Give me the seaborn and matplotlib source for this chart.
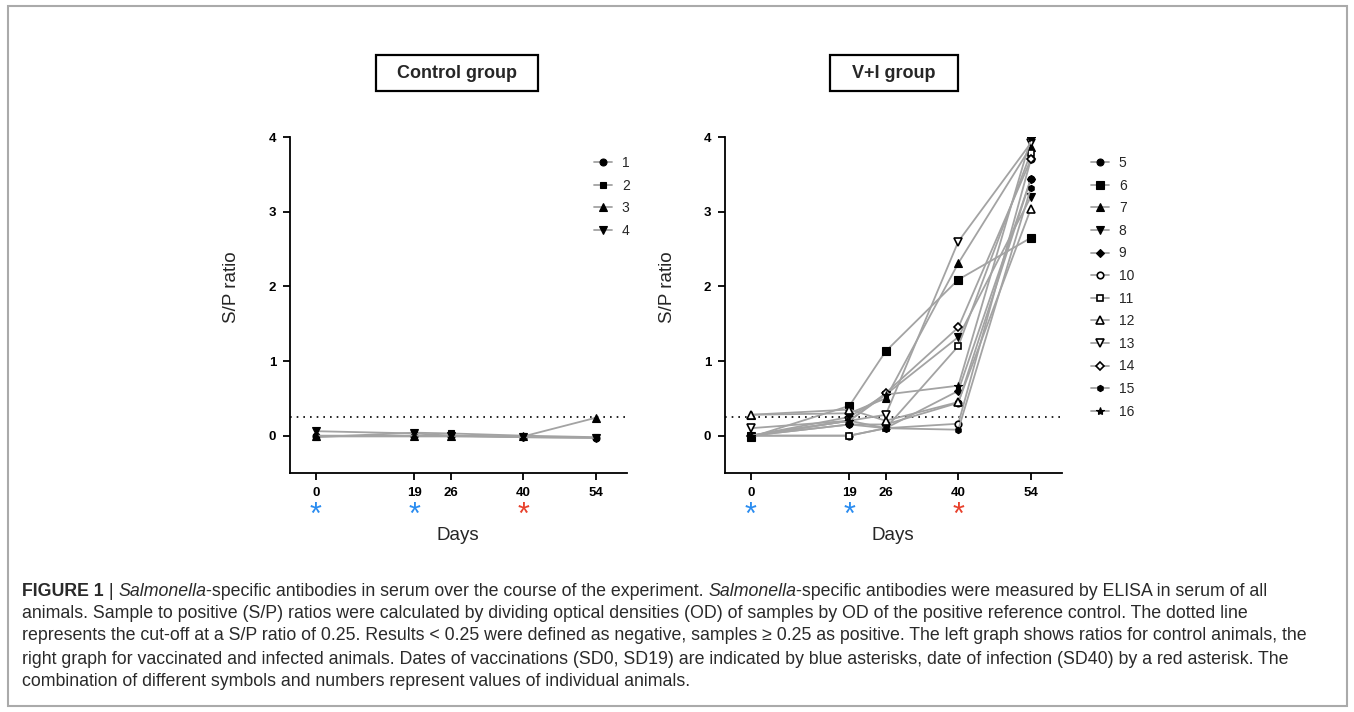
import numpy as np
import pandas as pd
import matplotlib
matplotlib.use("Agg")
import matplotlib.pyplot as plt
import matplotlib.transforms as mtransforms
from matplotlib.lines import Line2D
from matplotlib.patches import Rectangle
import seaborn as sns

# ---------------- data ----------------
days = [0, 19, 26, 40, 54]
day_labels = ["0", "19", "26", "40", "54"]

# control group (animals 1-4)
ctrl_1 = [-0.01, -0.01, -0.01, -0.02, -0.03]
ctrl_2 = [-0.02, 0.04, 0.03, 0.00, -0.02]
ctrl_3 = [0.00, 0.00, 0.00, -0.01, 0.24]
ctrl_4 = [0.06, 0.03, 0.00, -0.02, -0.03]
ctrl_ids = ["1", "2", "3", "4"]

# V+I group (animals 5-16)
vi_5 = [0.00, 0.15, 0.15, 0.44, 3.44]
vi_6 = [-0.02, 0.40, 1.13, 2.09, 2.65]
vi_7 = [0.28, 0.30, 0.50, 2.31, 3.87]
vi_8 = [0.00, 0.25, 0.55, 1.32, 3.20]
vi_9 = [0.00, 0.15, 0.10, 0.60, 3.44]
vi_10 = [0.00, 0.00, 0.10, 0.16, 3.70]
vi_11 = [0.00, 0.00, 0.10, 1.20, 3.79]
vi_12 = [0.28, 0.35, 0.20, 0.45, 3.04]
vi_13 = [0.10, 0.20, 0.28, 2.60, 3.92]
vi_14 = [0.00, 0.20, 0.57, 1.45, 3.70]
vi_15 = [0.00, 0.20, 0.10, 0.08, 3.32]
vi_16 = [0.00, 0.20, 0.55, 0.67, 3.98]
vi_ids = [str(i) for i in range(5, 17)]

cutoff = 0.25
yticks = [0, 1, 2, 3, 4]

ctrl_vals = [ctrl_1, ctrl_2, ctrl_3, ctrl_4]
vi_vals = [vi_5, vi_6, vi_7, vi_8, vi_9, vi_10, vi_11, vi_12, vi_13, vi_14, vi_15, vi_16]

# ---------------- style ----------------
sns.set_theme(style="ticks")
plt.rcParams["font.family"] = ["Liberation Sans", "DejaVu Sans"]

W, H = 1354, 712
fig = plt.figure(figsize=(W / 100, H / 100), dpi=100)
fig.patch.set_facecolor("white")

LINE_C = "#a3a3a3"

# marker styles: (marker, filled, size)
ctrl_styles = [("o", True, 5), ("s", True, 5), ("^", True, 5.5), ("v", True, 5.5)]
vi_styles = [("o", True, 5), ("s", True, 5.2), ("^", True, 5.5), ("v", True, 5.5),
             ("D", True, 4), ("o", False, 4.7), ("s", False, 4.7), ("^", False, 5.5),
             ("v", False, 5.5), ("D", False, 4.3), ("h", True, 4.5), ("*", True, 6)]


def px_box(x0, y0, x1, y1):
    return [x0 / W, 1 - y1 / H, (x1 - x0) / W, (y1 - y0) / H]


def draw_panel(ax, ids, vals, styles, title, title_box, legend_xy):
    handles = []
    for aid, v, (m, filled, ms) in zip(ids, vals, styles):
        d = pd.DataFrame({"day": days, "sp": v})
        fc = "black" if filled else "white"
        mew = 1.2 if not filled else 0.8
        sns.lineplot(data=d, x="day", y="sp", ax=ax, color=LINE_C, lw=1.3,
                     marker=m, ms=ms, markerfacecolor=fc, markeredgecolor="black",
                     mew=mew, legend=False, zorder=3)
        handles.append(Line2D([0], [0], color=LINE_C, lw=1.3, marker=m, ms=ms,
                              markerfacecolor=fc, markeredgecolor="black",
                              mew=mew, label=aid))
    ax.axhline(cutoff, color="black", lw=1.2, ls=(0, (1, 3)), zorder=1)
    ax.set_xlim(-5, 60)
    ax.set_ylim(-0.5, 4)
    ax.set_xticks(days)
    ax.set_xticklabels(day_labels, fontweight="bold", fontsize=9.5)
    ax.set_yticks(yticks)
    ax.set_yticklabels([str(t) for t in yticks], fontweight="bold", fontsize=9.5)
    ax.set_xlabel("")
    ax.set_ylabel("")
    for s in ["top", "right"]:
        ax.spines[s].set_visible(False)
    for s in ["left", "bottom"]:
        ax.spines[s].set_linewidth(1.3)
        ax.spines[s].set_color("black")
    ax.tick_params(axis="both", direction="out", length=5, width=1.3, colors="black", pad=5)
    ax.patch.set_alpha(0)

    fig.legend(handles=handles, loc="upper left",
               bbox_to_anchor=(legend_xy[0] / W, 1 - legend_xy[1] / H),
               frameon=False, fontsize=10, handlelength=1.3, handletextpad=0.7,
               labelspacing=0.62, borderpad=0, borderaxespad=0)

    # title box
    bx0, by0, bx1, by1 = title_box
    fig.patches.append(Rectangle((bx0 / W, 1 - by1 / H), (bx1 - bx0) / W, (by1 - by0) / H,
                                 transform=fig.transFigure, fill=False, ec="black", lw=1.6))
    fig.text((bx0 + bx1) / 2 / W, 1 - (by0 + by1) / 2 / H, title, ha="center", va="center",
             fontsize=13, fontweight="bold")

    # asterisks
    tr = mtransforms.blended_transform_factory(ax.transData, fig.transFigure)
    for dx, col in [(0, "#2a8cf0"), (19, "#2a8cf0"), (40, "#e8412c")]:
        ax.text(dx, 1 - 516 / H, "*", transform=tr, ha="center", va="center",
                fontsize=22, color=col, fontweight="normal")


axL = fig.add_axes(px_box(290, 137, 627, 473))
axR = fig.add_axes(px_box(725, 137, 1062, 473))

draw_panel(axL, ctrl_ids, ctrl_vals, ctrl_styles, "Control group", (376, 55, 538, 91), (594, 156))
draw_panel(axR, vi_ids, vi_vals, vi_styles, "V+I group", (830, 55, 958, 91), (1091, 156))

# axis labels
for cx in [458, 893]:
    fig.text(cx / W, 1 - 535 / H, "Days", ha="center", va="center", fontsize=13.5)
for cx in [232, 668]:
    fig.text(cx / W, 1 - 287 / H, "S/P ratio", ha="center", va="center", fontsize=13.5,
             rotation=90)

# frame around figure
fig.patches.append(Rectangle((8 / W, 1 - 706 / H), (1347 - 8) / W, (706 - 6) / H,
                             transform=fig.transFigure, fill=False, ec="#aaaaaa", lw=1.5))

# caption
CAP_FS = 12.8
CAP_C = "#2a2a2a"
renderer = fig.canvas.get_renderer()
first_line = [
    ("FIGURE 1", "normal", "bold"),
    (" | ", "normal", "normal"),
    ("Salmonella", "italic", "normal"),
    ("-specific antibodies in serum over the course of the experiment. ", "normal", "normal"),
    ("Salmonella", "italic", "normal"),
    ("-specific antibodies were measured by ELISA in serum of all", "normal", "normal"),
]
x_px = 22.0
for txt, sty, wt in first_line:
    t = fig.text(x_px / W, 1 - 591 / H, txt, ha="left", va="center", fontsize=CAP_FS,
                 color=CAP_C, fontstyle=sty, fontweight=wt)
    bb = t.get_window_extent(renderer=renderer)
    x_px += bb.width

cap_lines = [
    "animals. Sample to positive (S/P) ratios were calculated by dividing optical densities (OD) of samples by OD of the positive reference control. The dotted line",
    "represents the cut-off at a S/P ratio of 0.25. Results < 0.25 were defined as negative, samples \u2265 0.25 as positive. The left graph shows ratios for control animals, the",
    "right graph for vaccinated and infected animals. Dates of vaccinations (SD0, SD19) are indicated by blue asterisks, date of infection (SD40) by a red asterisk. The",
    "combination of different symbols and numbers represent values of individual animals.",
]
cap_y = [614, 636, 659, 682]
for t, yy in zip(cap_lines, cap_y):
    fig.text(22 / W, 1 - yy / H, t, ha="left", va="center", fontsize=CAP_FS, color=CAP_C)

fig.savefig("out.png", dpi=100, facecolor="white")
